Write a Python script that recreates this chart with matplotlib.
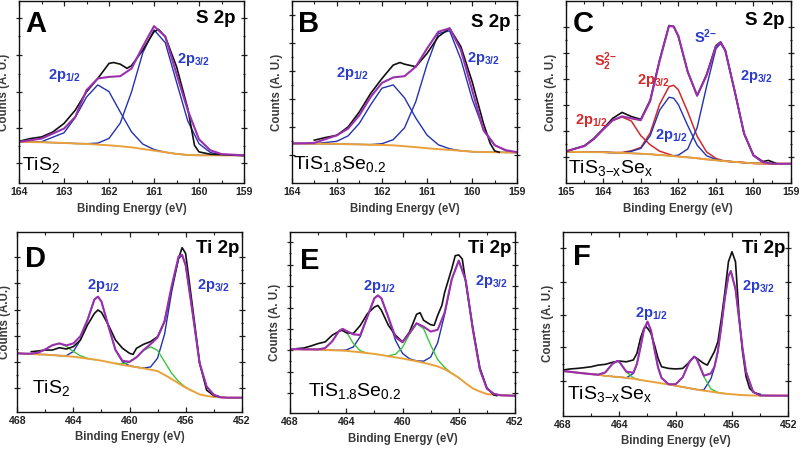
import matplotlib
matplotlib.use("Agg")
import matplotlib.pyplot as plt
from matplotlib.ticker import FixedLocator, MultipleLocator, FormatStrFormatter

# ---------------- data (counts in % of panel height, energies in eV) ----------------
# Panel A : TiS2, S 2p
A_x = [164, 163.5, 163, 162.75, 162.5, 162.25, 162, 161.75, 161.5, 161.25, 161, 160.75, 160.5, 160.25, 160, 159.75, 159.5, 159]
A_bg = [22.6, 22.4, 22.0, 21.7, 21.5, 21.1, 20.7, 20.2, 19.6, 18.7, 17.8, 16.9, 16.0, 15.4, 15.2, 15.2, 15.2, 15.2]
A_p12 = [22.6, 22.7, 27.6, 36.0, 47.2, 53.9, 50.2, 39.0, 28.1, 21.4, 18.4, 16.9, 16.0, 15.4, 15.2, 15.2, 15.2, 15.2]
A_p32 = [22.6, 22.4, 22.0, 21.7, 21.6, 21.9, 24.5, 32.9, 50.0, 71.5, 84.2, 77.1, 55.5, 34.1, 21.6, 16.8, 15.3, 15.2]
A_env = [22.6, 24.4, 29.9, 36.3, 51.0, 57.4, 58.3, 58.7, 62.9, 74.9, 86.2, 80.5, 60.0, 40.0, 24.0, 18.0, 15.9, 15.2]
A_dx = [164, 163.75, 163.5, 163.25, 163, 162.75, 162.5, 162.25, 162, 161.9, 161.75, 161.6, 161.5, 161.25, 161, 160.9, 160.75, 160.5, 160.25, 160.1, 160, 159.75, 159.5, 159]
A_dy = [22.9, 24.4, 25.3, 28.0, 32.7, 40.0, 50.1, 57.4, 65.7, 66.2, 65.3, 63.0, 64.5, 73.0, 83.1, 84.4, 80.4, 64.0, 40.9, 20.7, 17.1, 15.8, 15.6, 15.0]

# Panel B : TiS1.8Se0.2, S 2p
B_x = [164, 163.5, 163, 162.75, 162.5, 162.25, 162, 161.75, 161.5, 161.25, 161, 160.75, 160.5, 160.25, 160, 159.75, 159.5, 159.25, 159]
B_bg = [21.7, 21.6, 21.5, 21.3, 21.2, 21.0, 20.9, 20.7, 20.2, 19.7, 19.1, 18.6, 18.2, 17.7, 17.2, 17.0, 16.9, 16.8, 16.7]
B_p12 = [21.7, 21.6, 22.9, 25.9, 32.8, 43.0, 52.1, 53.9, 46.8, 35.7, 26.3, 21.0, 18.8, 17.7, 17.2, 17.0, 16.9, 16.8, 16.7]
B_p32 = [21.7, 21.6, 21.5, 21.3, 21.2, 21.1, 21.6, 23.8, 30.3, 44.7, 65.2, 82.1, 83.6, 67.9, 46.1, 29.4, 20.9, 17.7, 16.7]
B_env = [21.7, 22.0, 26.2, 29.9, 37.2, 47.3, 55.0, 58.0, 58.7, 63.9, 73.9, 83.1, 85.0, 73.0, 51.0, 29.0, 20.7, 18.0, 16.9]
B_dx = [163.5, 163.25, 163, 162.75, 162.5, 162.25, 162, 161.75, 161.6, 161.5, 161.25, 161, 160.75, 160.5, 160.25, 160, 159.75, 159.6, 159.5, 159.4]
B_dy = [23.5, 25.0, 26.2, 30.8, 39.1, 49.2, 57.4, 64.8, 66.2, 65.3, 63.9, 71.2, 80.4, 85.0, 74.9, 55.6, 32.7, 21.7, 17.6, 16.9]

# Panel C : TiS3-xSex, S 2p
C_x = [165, 164.5, 164.25, 164, 163.75, 163.5, 163.25, 163, 162.75, 162.5, 162.25, 162.125, 162, 161.75, 161.5, 161.25, 161, 160.875, 160.75, 160.5, 160.25, 160, 159.75, 159.5, 159]
C_bg = [17.1, 17.0, 16.95, 16.9, 16.7, 16.5, 16.3, 16.1, 15.8, 15.4, 15.0, 14.75, 14.5, 14.1, 13.6, 13.0, 12.5, 12.25, 12.0, 11.6, 11.2, 10.8, 10.7, 10.6, 10.6]
C_s2_p12 = [17.4, 20.3, 24.2, 29.5, 34.4, 36.3, 34.0, 26.0, 21.0, 17.5, 15.8, 14.9, 14.6, 14.1, 13.6, 13.0, 12.5, 12.25, 12.0, 11.6, 11.2, 10.8, 10.7, 10.6, 10.6]
C_s2_p32 = [17.1, 17.0, 16.95, 16.9, 16.7, 16.8, 17.7, 19.5, 27.5, 43.2, 52.9, 53.7, 51.2, 39.1, 25.7, 17.1, 13.5, 12.7, 12.0, 11.6, 11.2, 10.8, 10.7, 10.6, 10.6]
C_s_p12 = [17.1, 17.0, 16.95, 16.9, 16.7, 16.5, 17.4, 19.0, 26.0, 40.0, 47.1, 46.6, 43.1, 31.5, 20.8, 15.0, 12.9, 12.4, 12.0, 11.6, 11.2, 10.8, 10.7, 10.6, 10.6]
C_s_p32 = [17.1, 17.0, 16.95, 16.9, 16.7, 16.5, 16.3, 16.1, 15.8, 15.4, 15.0, 15.0, 15.3, 18.7, 30.4, 52.9, 73.7, 76.7, 72.7, 50.5, 27.3, 15.1, 11.4, 10.6, 10.6]
C_env = [17.4, 20.3, 24.2, 29.5, 34.4, 36.6, 35.5, 34.5, 45.0, 67.0, 86.2, 86.0, 80.9, 61.1, 48.0, 59.0, 75.1, 77.3, 72.7, 50.5, 27.3, 15.1, 11.4, 10.6, 10.6]
C_dx = [165, 164.5, 164.25, 164, 163.75, 163.5, 163.25, 163, 162.75, 162.5, 162.25, 162.125, 162, 161.75, 161.5, 161.25, 161, 160.875, 160.75, 160.5, 160.25, 160, 159.75, 159.6, 159.5, 159.4]
C_dy = [17.3, 20.5, 24.5, 29.8, 35.5, 38.8, 36.5, 35.0, 45.5, 67.5, 86.5, 86.0, 80.5, 61.0, 48.0, 59.5, 75.5, 77.5, 73.0, 50.5, 27.0, 15.3, 11.8, 12.4, 11.6, 10.8]

# Panel D : TiS2, Ti 2p
D_x = [468, 467.5, 467, 466.5, 466, 465.5, 465, 464.5, 464, 463.5, 463, 462.5, 462.25, 462, 461.5, 461, 460.5, 460, 459.5, 459, 458.5, 458, 457.5, 457, 456.5, 456.25, 456, 455.5, 455, 454.5, 454, 453.5, 453, 452]
D_bg = [32.5, 32.3, 32.1, 31.9, 31.8, 31.5, 31.2, 30.9, 30.6, 30.1, 29.5, 29.0, 28.7, 28.4, 27.6, 26.8, 26.0, 25.4, 24.8, 24.1, 23.4, 22.6, 20.5, 18.2, 15.8, 14.5, 13.4, 11.5, 9.6, 8.8, 8.2, 8.0, 7.8, 7.8]
D_ti = [32.5, 32.3, 32.1, 31.9, 31.8, 31.5, 31.2, 31.2, 33.5, 40.0, 50.7, 62.5, 64.0, 61.3, 47.5, 34.3, 27.7, 25.6, 24.8, 24.3, 24.9, 29.8, 43.1, 66.4, 85.4, 86.8, 81.4, 55.0, 27.0, 14.0, 9.5, 8.0, 7.8, 7.8]
D_env = [32.5, 32.3, 32.3, 32.9, 34.7, 37.0, 38.0, 36.9, 38.0, 42.0, 51.0, 62.5, 64.0, 61.3, 47.5, 34.4, 28.3, 27.8, 30.3, 34.3, 37.6, 41.3, 50.4, 69.7, 86.4, 87.3, 81.8, 55.0, 27.0, 14.0, 9.5, 8.0, 7.8, 7.8]
D_sat1_x = [467.5, 467, 466.5, 466, 465.5, 465, 464.5, 464, 463.5, 463, 462.5]
D_sat1_y = [32.3, 32.3, 32.9, 34.7, 37.0, 38.0, 36.4, 33.5, 31.1, 29.7, 29.0]
D_sat2_x = [461, 460.5, 460, 459.5, 459, 458.5, 458, 457.5, 457, 456.5, 456, 455.5]
D_sat2_y = [26.9, 26.6, 27.6, 30.3, 34.1, 36.1, 34.1, 27.8, 21.5, 16.8, 13.6, 11.5]
D_dx = [467, 466.5, 466, 465.5, 465, 464.5, 464, 463.5, 463, 462.5, 462.25, 462, 461.5, 461, 460.5, 460, 459.75, 459.5, 459, 458.5, 458, 457.5, 457, 456.5, 456.25, 456, 455.5, 455, 454.5, 454, 453.6]
D_dy = [33.4, 33.8, 34.3, 34.3, 35.6, 34.9, 36.2, 39.9, 48.2, 54.7, 56.6, 55.3, 48.2, 39.9, 35.3, 32.5, 31.9, 35.3, 37.5, 39.0, 41.7, 50.1, 68.6, 85.3, 91.3, 88.1, 58.0, 27.0, 12.0, 9.0, 8.3]

# Panel E : TiS1.8Se0.2, Ti 2p
E_x = [468, 467.5, 467, 466.5, 466, 465.5, 465, 464.5, 464.25, 464, 463.5, 463, 462.5, 462, 461.75, 461.5, 461, 460.5, 460, 459.5, 459, 458.5, 458, 457.5, 457, 456.5, 456, 455.5, 455, 454.5, 454, 453.5, 453, 452.5, 452]
E_bg = [35.3, 35.3, 35.2, 35.2, 35.1, 34.9, 34.7, 34.6, 34.5, 34.4, 34.0, 33.6, 33.1, 32.7, 32.4, 32.1, 31.4, 30.8, 30.2, 29.4, 28.7, 27.8, 26.9, 25.8, 24.3, 22.0, 19.6, 16.5, 13.7, 12.0, 10.6, 10.2, 9.9, 9.8, 9.7]
E_ti = [35.3, 35.3, 35.2, 35.2, 35.1, 34.9, 34.7, 34.7, 34.7, 34.9, 36.5, 42.3, 53.1, 63.4, 64.9, 63.3, 52.5, 40.2, 33.0, 30.0, 28.9, 28.7, 30.9, 38.8, 54.6, 73.7, 84.1, 73.1, 46.2, 24.1, 13.6, 10.7, 9.9, 9.8, 9.7]
E_env = [35.3, 35.3, 35.2, 35.2, 35.2, 35.9, 39.6, 45.5, 46.5, 45.4, 43.5, 43.1, 53.1, 63.4, 64.9, 63.3, 52.8, 41.9, 39.1, 44.2, 49.6, 47.7, 45.0, 46.0, 55.5, 73.8, 84.1, 73.1, 46.2, 24.1, 13.6, 10.7, 9.9, 9.8, 9.7]
E_sat1_x = [466, 465.5, 465, 464.5, 464.25, 464, 463.5, 463, 462.5]
E_sat1_y = [35.2, 35.9, 39.6, 45.4, 46.3, 44.9, 38.5, 34.4, 33.1]
E_sat2_x = [461, 460.5, 460, 459.5, 459, 458.5, 458, 457.5, 457, 456.5, 456]
E_sat2_y = [31.7, 32.5, 36.3, 43.6, 49.4, 46.6, 37.6, 29.6, 25.2, 22.1, 19.6]
E_dx = [467.5, 467, 466.5, 466, 465.5, 465, 464.5, 464.3, 464, 463.5, 463, 462.5, 462, 461.75, 461.5, 461, 460.5, 460, 459.5, 459, 458.75, 458.5, 458, 457.75, 457.5, 457.2, 457, 456.5, 456.25, 456, 455.75, 455.5, 455, 454.5, 454, 453.5, 453.3]
E_dy = [35.6, 36.0, 37.1, 38.4, 39.3, 43.0, 45.2, 45.7, 44.4, 43.9, 48.4, 54.8, 58.5, 59.4, 56.7, 48.4, 43.0, 39.3, 44.8, 54.5, 55.4, 51.2, 48.8, 48.4, 53.9, 59.4, 66.7, 79.5, 86.8, 87.2, 85.0, 72.0, 47.0, 25.0, 14.0, 10.1, 9.7]

# Panel F : TiS3-xSex, Ti 2p
F_x = [468, 467, 466, 465.5, 465, 464.5, 464.16, 464, 463.5, 463, 462.75, 462.5, 462.25, 462, 461.75, 461.5, 461.25, 461, 460.5, 460, 459.5, 459, 458.68, 458.5, 458, 457.5, 457.25, 457, 456.75, 456.5, 456.25, 456.08, 455.75, 455.5, 455.25, 455, 454.5, 454, 453, 452]
F_bg = [24.3, 23.4, 22.6, 22.2, 21.7, 21.3, 21.1, 21.0, 20.5, 20.1, 19.8, 19.4, 19.1, 18.8, 18.5, 18.2, 17.9, 17.6, 17.0, 16.3, 15.6, 14.9, 14.5, 14.2, 13.6, 13.1, 12.8, 12.5, 12.2, 12.0, 11.8, 11.7, 11.5, 11.3, 11.2, 11.1, 11.0, 10.9, 10.9, 10.9]
F_ti = [24.3, 23.4, 22.6, 22.2, 21.7, 21.3, 21.1, 21.0, 20.6, 23.0, 28.1, 37.1, 46.9, 51.1, 46.3, 35.9, 26.2, 20.5, 17.1, 16.3, 15.6, 14.9, 14.5, 14.2, 14.0, 20.0, 26.0, 35.0, 49.0, 64.2, 76.0, 78.6, 68.8, 52.9, 36.5, 23.9, 12.9, 11.0, 10.9, 10.9]
F_env = [24.3, 23.4, 22.6, 22.3, 23.5, 28.1, 29.7, 29.3, 23.9, 23.4, 28.1, 37.1, 46.9, 51.1, 46.3, 35.9, 26.2, 20.5, 17.1, 17.1, 20.9, 29.6, 32.1, 30.8, 21.7, 23.0, 26.5, 35.1, 49.0, 64.2, 76.0, 78.6, 68.8, 52.9, 36.5, 23.9, 12.9, 11.0, 10.9, 10.9]
F_sat1_x = [466, 465.5, 465, 464.5, 464.16, 464, 463.5, 463, 462.5]
F_sat1_y = [22.6, 22.3, 23.5, 28.1, 29.7, 29.3, 23.8, 20.5, 19.4]
F_sat2_x = [460.5, 460, 459.5, 459, 458.68, 458.5, 458, 457.5, 457, 456.5]
F_sat2_y = [17.0, 17.1, 20.9, 29.6, 32.1, 30.8, 21.3, 14.6, 12.6, 12.0]
F_dx = [468, 467.5, 467, 466.5, 466, 465.5, 465, 464.5, 464, 463.5, 463, 462.75, 462.5, 462.25, 462.1, 461.9, 461.75, 461.5, 461.25, 461, 460.5, 460, 459.5, 459, 458.7, 458.5, 458, 457.75, 457.5, 457.25, 457, 456.75, 456.5, 456.25, 456, 455.75, 455.5, 455.25, 455, 454.75, 454.5, 454.25, 454]
F_dy = [24.8, 25.4, 25.7, 26.1, 26.6, 27.5, 27.9, 29.0, 29.7, 29.3, 30.3, 33.9, 42.0, 47.5, 48.4, 46.6, 44.7, 38.4, 31.2, 26.6, 25.7, 25.4, 25.7, 29.3, 32.1, 31.2, 28.4, 27.5, 31.2, 34.8, 40.2, 52.9, 67.4, 83.7, 89.1, 83.7, 54.7, 34.8, 21.2, 14.9, 13.0, 12.1, 11.6]

panel_letters = ["A", "B", "C", "D", "E", "F"]
core_levels = ["S 2p", "S 2p", "S 2p", "Ti 2p", "Ti 2p", "Ti 2p"]
samples = [r"TiS$_{2}$", r"TiS$_{\mathrm{1.8}}$Se$_{\mathrm{0.2}}$", r"TiS$_{\mathrm{3{-}x}}$Se$_{\mathrm{x}}$",
           r"TiS$_{2}$", r"TiS$_{\mathrm{1.8}}$Se$_{\mathrm{0.2}}$", r"TiS$_{\mathrm{3{-}x}}$Se$_{\mathrm{x}}$"]
ylabels = ["Counts (A. U.)", "Counts (A. U.)", "Counts (A. U.)", "Counts (A.U.)", "Counts (A. U.)", "Counts (A. U.)"]
xlabel = "Binding Energy (eV)"

# ---------------- style ----------------
plt.rcParams.update({
    "font.family": ["Liberation Sans", "DejaVu Sans"],
    "mathtext.fontset": "custom",
    "mathtext.rm": "Liberation Sans",
    "mathtext.it": "Liberation Sans:italic",
    "mathtext.bf": "Liberation Sans:bold",
    "mathtext.sf": "Liberation Sans",
})

C_BLACK = "#111111"
C_PURPLE = "#9b30ae"
C_BLUE = "#2233b0"
C_RED = "#d02a2a"
C_GREEN = "#3cc43c"
C_ORANGE = "#e9a23b"
T_BLUE = "#2a3ccc"
T_RED = "#d42a2a"

fig = plt.figure(figsize=(8, 4.5), dpi=100)

W, H = 800.0, 450.0
boxes = [  # left, right, top, bottom in pixels
    (19.0, 244.0, 1.0, 183.0),
    (291.7, 517.3, 1.0, 183.0),
    (565.7, 791.0, 1.0, 183.0),
    (17.3, 241.7, 232.0, 411.7),
    (290.0, 515.0, 231.7, 413.3),
    (563.0, 788.3, 231.7, 415.7),
]
axes = []
for (l, r, t, b) in boxes:
    axes.append(fig.add_axes([l / W, 1 - b / H, (r - l) / W, (b - t) / H]))

yticks = [
    [11.0, 30.2, 50.0, 70.3, 90.7],
    [15.4, 30.8, 46.2, 61.5, 76.9, 92.3],
    [14.3, 28.6, 42.9, 57.1, 71.4, 85.7],
    [13.2, 27.6, 42.1, 56.6, 71.6, 86.1],
    [11.0, 22.9, 34.9, 46.6, 58.0, 69.9, 81.9, 94.3],
    [19.0, 37.1, 54.9, 72.8, 91.0],
]
xlims = [(164, 159), (164, 159), (165, 159), (468, 452), (468, 452), (468, 452)]
xmaj = [1, 1, 1, 4, 4, 4]
ylabel_x = [-0.038, -0.038, -0.038, -0.03, -0.038, -0.038]

for i, ax in enumerate(axes):
    ax.set_xlim(*xlims[i])
    ax.set_ylim(0, 100)
    ax.xaxis.set_major_locator(MultipleLocator(xmaj[i]))
    ax.xaxis.set_minor_locator(MultipleLocator(xmaj[i] / 2))
    ax.xaxis.set_major_formatter(FormatStrFormatter("%d"))
    yt = yticks[i]
    ax.yaxis.set_major_locator(FixedLocator(yt))
    mids = [(a + b) / 2 for a, b in zip(yt[:-1], yt[1:])]
    ax.yaxis.set_minor_locator(FixedLocator(mids))
    ax.tick_params(axis="x", which="both", direction="in", top=True, bottom=True,
                   labelsize=7.6, colors="#222222", pad=3)
    ax.tick_params(axis="x", which="major", length=3.5, width=0.9)
    ax.tick_params(axis="x", which="minor", length=2.0, width=0.8)
    ax.tick_params(axis="y", which="both", left=True, right=True, labelleft=False,
                   direction="inout", width=0.9, colors="#222222")
    ax.tick_params(axis="y", which="major", length=4.0)
    ax.tick_params(axis="y", which="minor", length=2.0)
    for lab in ax.get_xticklabels():
        lab.set_fontweight("bold")
    for s in ax.spines.values():
        s.set_linewidth(1.0)
        s.set_color("#111111")
    ax.set_xlabel(xlabel, fontsize=8.3, fontweight="bold", color="#3a3a3a", labelpad=4)
    ax.set_ylabel(ylabels[i], fontsize=8.3, fontweight="bold", color="#3a3a3a")
    ax.yaxis.set_label_coords(ylabel_x[i], 0.5)

# ---------------- curves ----------------
lw_c = 1.0
# A
ax = axes[0]
ax.plot(A_x, A_p12, color=C_BLUE, lw=lw_c)
ax.plot(A_x, A_p32, color=C_BLUE, lw=lw_c)
ax.plot(A_x, A_bg, color=C_ORANGE, lw=1.4)
ax.plot(A_dx, A_dy, color=C_BLACK, lw=1.2)
ax.plot(A_x, A_env, color=C_PURPLE, lw=1.5)
# B
ax = axes[1]
ax.plot(B_x, B_p12, color=C_BLUE, lw=lw_c)
ax.plot(B_x, B_p32, color=C_BLUE, lw=lw_c)
ax.plot(B_x, B_bg, color=C_ORANGE, lw=1.4)
ax.plot(B_dx, B_dy, color=C_BLACK, lw=1.2)
ax.plot(B_x, B_env, color=C_PURPLE, lw=1.5)
# C
ax = axes[2]
ax.plot(C_x, C_s2_p12, color=C_RED, lw=1.1)
ax.plot(C_x, C_s2_p32, color=C_RED, lw=1.1)
ax.plot(C_x, C_s_p12, color=C_BLUE, lw=lw_c)
ax.plot(C_x, C_s_p32, color=C_BLUE, lw=lw_c)
ax.plot(C_x, C_bg, color=C_ORANGE, lw=1.4)
ax.plot(C_dx, C_dy, color=C_BLACK, lw=1.2)
ax.plot(C_x, C_env, color=C_PURPLE, lw=1.5)
# D
ax = axes[3]
ax.plot(D_x, D_ti, color=C_BLUE, lw=lw_c)
ax.plot(D_sat1_x, D_sat1_y, color=C_GREEN, lw=lw_c)
ax.plot(D_sat2_x, D_sat2_y, color=C_GREEN, lw=lw_c)
ax.plot(D_x, D_bg, color=C_ORANGE, lw=1.4)
ax.plot(D_dx, D_dy, color=C_BLACK, lw=1.2)
ax.plot(D_x, D_env, color=C_PURPLE, lw=1.5)
# E
ax = axes[4]
ax.plot(E_x, E_ti, color=C_BLUE, lw=lw_c)
ax.plot(E_sat1_x, E_sat1_y, color=C_GREEN, lw=lw_c)
ax.plot(E_sat2_x, E_sat2_y, color=C_GREEN, lw=lw_c)
ax.plot(E_x, E_bg, color=C_ORANGE, lw=1.4)
ax.plot(E_dx, E_dy, color=C_BLACK, lw=1.2)
ax.plot(E_x, E_env, color=C_PURPLE, lw=1.5)
# F
ax = axes[5]
ax.plot(F_x, F_ti, color=C_BLUE, lw=lw_c)
ax.plot(F_sat1_x, F_sat1_y, color=C_GREEN, lw=lw_c)
ax.plot(F_sat2_x, F_sat2_y, color=C_GREEN, lw=lw_c)
ax.plot(F_x, F_bg, color=C_ORANGE, lw=1.4)
ax.plot(F_dx, F_dy, color=C_BLACK, lw=1.2)
ax.plot(F_x, F_env, color=C_PURPLE, lw=1.5)

# ---------------- texts ----------------
letter_pos = [(0.027, 0.95), (0.028, 0.95), (0.032, 0.95), (0.034, 0.928), (0.044, 0.917), (0.046, 0.937)]
core_pos = [(0.96, 0.95), (0.968, 0.93), (0.973, 0.94), (0.99, 0.955), (0.985, 0.954), (0.985, 0.955)]
sample_pos = [(0.012, 0.071), (0.007, 0.075), (0.012, 0.053), (0.064, 0.102), (0.081, 0.097), (0.016, 0.089)]
for i, ax in enumerate(axes):
    ax.text(*letter_pos[i], panel_letters[i], transform=ax.transAxes, fontsize=21,
            fontweight="bold", ha="left", va="top", color="#000000")
    ax.text(*core_pos[i], core_levels[i], transform=ax.transAxes, fontsize=13.5,
            fontweight="bold", ha="right", va="top", color="#000000")
    ax.text(*sample_pos[i], samples[i], transform=ax.transAxes, fontsize=14,
            ha="left", va="baseline", color="#000000")

L12 = r"2p$_{\mathbf{1/2}}$"
L32 = r"2p$_{\mathbf{3/2}}$"
kw = dict(fontsize=10.5, fontweight="bold", ha="center", va="center")
axes[0].text(162.98, 59.0, L12, color=T_BLUE, **kw)
axes[0].text(160.13, 68.0, L32, color=T_BLUE, **kw)
axes[1].text(162.66, 60.2, L12, color=T_BLUE, **kw)
axes[1].text(159.76, 68.4, L32, color=T_BLUE, **kw)
axes[2].text(163.95, 66.6, r"S$_{\mathbf{2}}^{\mathbf{2{-}}}$", color=T_RED, **kw)
axes[2].text(162.65, 56.5, L32, color=T_RED, **kw)
axes[2].text(164.31, 34.1, L12, color=T_RED, **kw)
axes[2].text(161.27, 80.4, r"S$^{\mathbf{2{-}}}$", color=T_BLUE, **kw)
axes[2].text(159.92, 58.3, L32, color=T_BLUE, **kw)
axes[2].text(162.19, 26.2, L12, color=T_BLUE, **kw)
axes[3].text(461.82, 70.5, L12, color=T_BLUE, **kw)
axes[3].text(454.02, 70.5, L32, color=T_BLUE, **kw)
axes[4].text(461.64, 69.7, L12, color=T_BLUE, **kw)
axes[4].text(453.66, 72.5, L32, color=T_BLUE, **kw)
axes[5].text(461.72, 55.6, L12, color=T_BLUE, **kw)
axes[5].text(454.13, 70.1, L32, color=T_BLUE, **kw)

fig.savefig("out.png", dpi=100)
